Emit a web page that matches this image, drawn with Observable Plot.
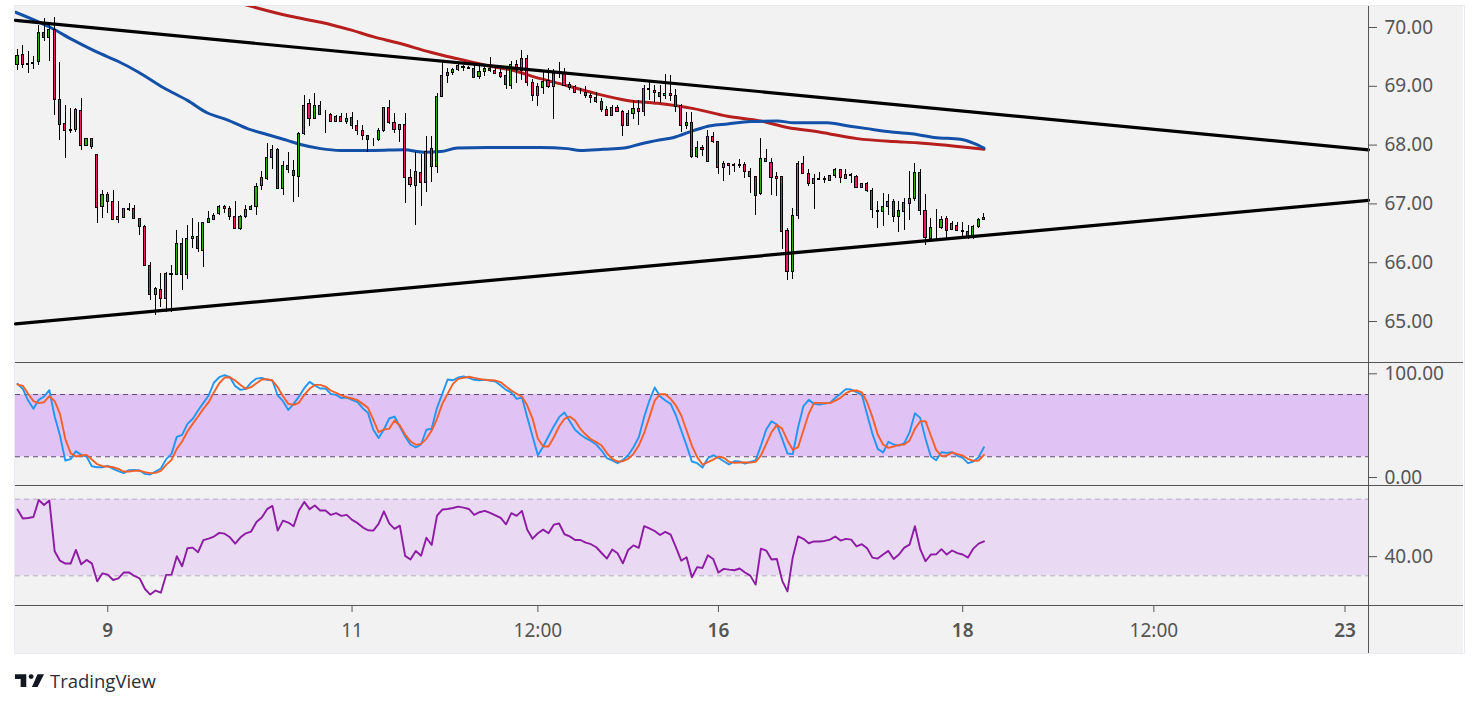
<!DOCTYPE html>
<html>
<head>
<meta charset="utf-8">
<script src="https://cdn.jsdelivr.net/npm/d3@7"></script>
<script src="https://cdn.jsdelivr.net/npm/@observablehq/plot@0.6"></script>
<style>
html,body{margin:0;padding:0;background:#fff;width:1479px;height:706px;overflow:hidden}
.pane{position:absolute;left:15px}
.pane svg{display:block}
.line{position:absolute;background:#555;z-index:5}
#edge{position:absolute;left:14px;top:5px;width:1449px;height:647px;border:1px solid #eaeaf2}
#brand{position:absolute;left:15px;top:668px;display:flex;align-items:center;font:18.5px "Open Sans",sans-serif;color:#2a2e39}
#brand svg{margin-right:6px}
</style>
</head>
<body>
<div id="edge"></div>
<div class="pane" id="price" style="top:6px"></div>
<div class="pane" id="stoch" style="top:362px"></div>
<div class="pane" id="rsiPane" style="top:485px"></div>
<div class="line" style="left:15px;top:362px;width:1448px;height:1px"></div>
<div class="line" style="left:15px;top:485px;width:1448px;height:1px"></div>
<div class="line" style="left:15px;top:605px;width:1448px;height:1px"></div>
<div class="line" style="left:1368px;top:6px;width:1px;height:647px"></div>
<div id="brand">
<svg width="29" height="22" viewBox="0 6 36 17"><path fill="#131722" d="M14 6H0v6h7v10h7zM28 22h-7l7-16h8z"/><circle fill="#131722" cx="20" cy="9" r="3"/></svg>
<span>TradingView</span>
</div>
<script>
const opens = [
69.37,69.54,69.37,69.38,69.42,69.91,69.82,69.96,68.77,68.36,
68.26,68.26,68.58,67.98,68.11,67.83,66.95,67.15,67.04,66.73,
66.76,66.92,66.92,66.75,66.61,65.95,65.45,65.54,65.39,65.79,
65.79,66.32,65.79,66.41,66.44,66.20,66.68,66.73,66.83,66.95,
66.92,66.78,66.58,66.78,66.90,66.95,67.31,67.43,67.78,67.92,
67.26,67.65,67.56,67.46,68.19,68.70,68.45,68.67,68.52,68.52,
68.40,68.48,68.40,68.46,68.33,68.24,68.15,68.10,68.08,68.24,
68.63,68.38,68.25,68.35,67.44,67.31,67.53,67.36,67.94,67.63,
68.82,69.17,69.22,69.28,69.33,69.31,69.30,69.16,69.25,69.30,
69.26,69.23,69.18,69.01,69.36,69.26,69.47,69.06,68.84,68.97,
69.09,68.99,69.21,69.21,69.03,68.99,68.89,68.89,68.84,68.80,
68.74,68.60,68.50,68.63,68.57,68.32,68.53,68.62,68.56,68.96,
68.92,68.89,68.83,68.87,68.84,68.66,68.33,68.38,67.80,67.95,
67.72,68.14,68.06,67.61,67.68,67.65,67.65,67.67,67.55,67.46,
67.16,67.77,67.70,67.46,67.46,66.54,65.85,66.80,67.68,67.51,
67.34,67.43,67.41,67.39,67.48,67.58,67.43,67.48,67.46,67.27,
67.33,67.22,66.88,66.87,66.95,67.04,66.78,66.87,67.00,67.09,
67.53,66.88,66.40,66.59,66.59,66.75,66.56,66.63,66.54,66.53,
66.46,66.61,66.73];
const closes = [
69.52,69.37,69.38,69.40,69.91,69.82,69.96,68.77,68.35,68.24,
68.24,68.60,67.99,68.11,67.97,66.93,67.15,67.04,66.72,66.78,
66.92,66.90,66.75,66.61,65.95,65.45,65.56,65.39,65.81,65.81,
66.32,65.79,66.41,66.44,66.24,66.68,66.75,66.80,66.95,66.92,
66.78,66.58,66.78,66.90,66.95,67.29,67.44,67.78,67.92,67.26,
67.65,67.58,67.48,68.19,68.67,68.45,68.67,68.52,68.52,68.40,
68.48,68.40,68.45,68.32,68.24,68.15,68.08,68.10,68.24,68.63,
68.37,68.25,68.35,67.44,67.32,67.55,67.36,67.88,67.63,68.82,
69.18,69.23,69.28,69.35,69.31,69.30,69.14,69.25,69.30,69.26,
69.21,69.16,69.03,69.36,69.30,69.47,69.06,68.84,68.99,69.08,
68.99,69.21,69.21,69.01,68.97,68.89,68.89,68.83,68.80,68.74,
68.59,68.49,68.63,68.56,68.32,68.53,68.62,68.56,68.96,68.94,
68.88,68.82,68.87,68.84,68.65,68.32,68.38,67.80,67.95,67.92,
68.14,68.06,67.61,67.68,67.65,67.67,67.67,67.55,67.46,67.14,
67.77,67.71,67.44,67.43,66.53,65.85,66.80,67.68,67.51,67.33,
67.43,67.41,67.43,67.48,67.58,67.44,67.50,67.50,67.27,67.33,
67.22,66.90,66.87,66.95,67.04,66.78,66.88,67.02,67.09,67.53,
66.88,66.42,66.59,66.59,66.73,66.54,66.65,66.54,66.53,66.44,
66.61,66.73,66.76];
const highs = [
69.62,69.69,69.60,69.51,70.03,70.15,70.06,70.17,69.40,68.67,
68.62,68.62,68.79,68.11,68.12,67.83,67.22,67.19,67.22,67.04,
66.92,67.00,66.97,66.75,66.63,66.00,65.57,65.81,65.84,65.95,
66.54,66.41,66.64,66.75,66.68,66.69,66.87,66.83,66.97,66.97,
66.95,67.04,66.81,66.97,66.97,67.34,67.55,68.02,68.00,67.94,
67.72,67.87,67.73,68.21,68.84,68.77,68.87,68.75,68.58,68.53,
68.50,68.53,68.53,68.55,68.42,68.33,68.15,68.12,68.29,68.63,
68.76,68.53,68.35,68.53,67.58,67.88,67.84,68.14,68.14,68.87,
69.40,69.30,69.31,69.38,69.36,69.33,69.35,69.35,69.33,69.49,
69.31,69.33,69.30,69.43,69.44,69.61,69.52,69.11,69.05,69.24,
69.30,69.28,69.40,69.31,69.07,69.01,68.97,68.99,68.87,68.89,
68.79,68.65,68.67,68.67,68.59,68.59,68.76,68.76,69.01,69.10,
69.01,69.01,69.20,69.18,68.94,68.69,68.56,68.56,68.06,67.99,
68.25,68.21,68.06,67.72,67.68,67.68,67.75,67.71,67.60,67.47,
68.11,67.92,67.78,67.53,67.46,66.59,66.93,67.72,67.80,67.58,
67.50,67.53,67.46,67.48,67.61,67.58,67.58,67.51,67.48,67.34,
67.36,67.26,67.04,67.17,67.16,67.07,67.04,67.10,67.55,67.68,
67.58,67.16,66.75,66.90,66.79,66.79,66.70,66.68,66.68,66.64,
66.64,66.76,66.83];
const lows = [
69.27,69.31,69.22,69.29,69.36,69.76,69.43,68.51,68.07,67.78,
68.19,68.22,67.91,67.97,67.93,66.66,66.76,66.84,66.71,66.66,
66.76,66.87,66.74,66.47,65.95,65.35,65.11,65.24,65.16,65.16,
65.79,65.52,65.72,66.24,66.18,65.91,66.66,66.71,66.81,66.83,
66.71,66.56,66.54,66.76,66.88,66.81,67.22,67.39,67.59,67.26,
67.15,67.51,67.03,67.11,68.16,68.31,68.43,68.50,68.20,68.38,
68.38,68.38,68.35,68.27,68.16,68.08,67.88,67.97,68.06,68.22,
68.35,68.20,68.05,67.01,67.28,66.64,66.96,67.20,67.36,67.52,
68.82,69.04,69.18,69.26,69.26,69.28,69.14,69.11,69.17,69.24,
69.20,69.14,68.95,68.94,69.04,69.10,68.99,68.75,68.66,68.86,
68.97,68.43,69.14,68.99,68.93,68.88,68.86,68.80,68.71,68.71,
68.56,68.48,68.49,68.55,68.14,68.31,68.44,68.34,68.48,68.76,
68.72,68.70,68.78,68.74,68.56,68.22,68.27,67.78,67.78,67.80,
67.71,68.02,67.50,67.38,67.48,67.54,67.60,67.44,67.18,66.80,
67.14,67.70,67.14,67.12,66.23,65.70,65.72,66.74,67.51,67.29,
66.91,67.39,67.35,67.38,67.44,67.34,67.41,67.35,67.27,67.26,
67.19,66.76,66.59,66.62,66.81,66.69,66.52,66.55,66.71,67.04,
66.80,66.30,66.34,66.38,66.57,66.42,66.54,66.53,66.42,66.39,
66.39,66.58,66.73];
const stochK = [
90.3,85.5,74.2,66.2,74.9,78.1,84.2,58.8,40.5,16.4,17.7,25.4,21.8,20.2,10.9,9.9,9.9,11.2,8.3,6.1,
4.2,7.1,7.4,6.7,3.5,2.9,5.8,8.7,17.7,22.8,39.2,41.1,51.7,56.6,64.6,72.0,79.1,91.6,96.7,98.7,
96.7,88.1,84.5,85.5,91.6,95.4,96.1,94.2,93.5,79.1,73.6,65.2,71.0,78.1,86.1,92.2,88.7,85.8,85.8,80.7,
79.7,76.5,77.1,74.9,72.6,66.8,62.3,46.0,38.2,46.3,56.9,58.8,49.2,39.5,31.8,28.9,31.8,46.0,47.2,67.2,
80.7,94.5,93.8,96.4,97.4,96.1,94.2,93.8,94.2,93.5,92.6,88.7,84.5,81.9,75.8,77.1,58.2,39.5,21.5,29.9,
39.8,49.5,58.2,62.7,54.3,46.0,41.4,37.9,35.3,31.8,26.0,18.6,16.4,13.8,16.7,21.5,29.2,38.9,58.2,74.2,
86.8,78.4,74.2,71.0,59.8,45.3,30.8,15.4,13.8,9.6,18.6,21.5,19.0,15.7,12.5,15.7,15.4,13.5,15.1,16.4,
30.8,46.3,54.3,51.1,37.3,23.1,22.5,48.5,68.8,74.9,71.0,70.4,71.3,72.0,76.8,80.7,85.2,84.8,82.3,79.7,
60.7,42.1,27.6,24.1,34.4,31.8,30.8,33.1,43.7,62.0,57.5,37.3,20.2,16.7,24.4,23.8,24.4,20.9,19.0,13.8,
15.4,19.6,29.2];
const stochD = [
89.7,88.4,80.7,73.6,71.7,72.6,78.4,73.6,61.4,37.3,23.5,20.2,21.2,21.8,17.3,12.8,10.9,10.6,9.9,8.3,
5.8,5.8,6.4,6.7,5.1,4.2,4.5,6.4,12.2,17.0,27.6,34.7,44.3,51.7,58.8,66.2,72.6,82.3,90.9,96.4,
96.7,93.5,89.3,85.5,87.1,90.9,94.5,94.8,93.5,87.1,78.4,71.0,70.1,72.0,79.7,85.5,89.3,89.3,87.7,83.9,
81.6,79.1,77.4,76.2,74.6,71.0,67.2,55.9,43.7,46.3,46.9,55.0,50.1,41.4,35.0,31.5,32.4,37.3,45.3,56.6,
71.0,80.7,90.3,95.1,96.1,97.1,96.1,95.1,94.2,93.8,93.5,91.9,87.7,83.9,80.7,78.1,69.4,56.6,37.3,29.9,
29.9,38.9,49.2,56.6,58.8,55.0,46.9,41.4,36.9,34.1,30.8,23.5,18.0,15.4,15.7,18.0,22.8,30.8,42.7,58.2,
74.2,80.3,80.3,75.8,69.4,59.8,45.3,30.8,19.6,12.5,14.8,17.3,20.2,19.0,15.1,14.1,14.4,14.4,14.4,15.1,
21.2,32.4,43.7,50.8,46.9,35.7,26.7,29.2,45.3,61.4,72.0,72.0,71.7,71.7,74.2,76.8,81.3,83.6,83.9,82.0,
72.6,58.2,41.4,31.8,28.6,29.9,31.5,31.8,35.7,46.9,54.3,54.3,40.5,26.7,20.6,21.2,24.1,22.5,21.2,18.0,
16.1,16.4,21.8];
const rsi = [
64.6,59.9,60.2,60.7,69.6,67.0,69.3,42.8,37.9,36.4,36.4,43.5,36.0,38.3,36.5,27.1,31.3,30.6,27.8,28.7,
31.7,31.8,29.9,28.7,23.1,20.2,22.3,21.2,30.5,30.6,40.2,35.0,44.4,44.7,42.3,48.6,49.4,50.5,52.4,52.0,
50.1,46.8,50.1,52.2,53.1,58.1,60.4,64.8,66.5,53.6,58.8,57.8,55.9,64.1,68.6,64.8,66.7,64.1,64.1,61.8,
62.7,61.3,61.8,59.2,57.6,55.3,53.8,53.6,57.1,63.7,57.4,54.5,56.2,40.4,38.5,43.0,40.5,49.9,46.1,61.4,
64.6,64.9,65.4,66.1,65.6,64.9,61.8,63.2,63.9,62.8,61.6,60.2,56.9,62.7,61.3,63.9,54.0,49.4,52.2,54.1,
52.2,56.7,57.3,51.7,50.6,48.7,48.7,47.3,46.5,44.9,41.9,39.0,43.7,41.8,36.5,43.5,45.9,44.6,55.9,54.8,
53.4,51.3,52.9,51.5,44.9,37.9,39.7,29.2,34.5,34.1,40.7,38.8,31.7,33.6,33.2,32.9,33.8,31.7,30.1,25.4,
44.2,43.2,38.5,38.8,27.5,21.9,39.7,50.6,49.3,47.0,48.0,47.9,48.2,48.9,50.5,48.4,49.3,48.9,45.4,46.5,
44.4,39.5,39.0,41.1,43.0,38.8,41.1,44.7,46.3,55.9,43.9,37.6,41.1,41.2,43.9,41.1,43.2,41.8,41.1,39.5,
44.2,46.8,48.0];
const blueBar = [-0.4,6.2,10.6,15,18.8,22.8,27.6,32,35.7,39.5,43.3,47,50.8,53.3,57.1,60.8,67.1,72.8,76.5,79.7,82.8,88.5,94.7,98.5,103.5,106,110.4,114.2,117.3,121.1,123.6,127.4,130.5,133.7,138,143.1,146.2,152.5,156.2,160,165,168.8,172.6,177.6,180.1,182];
const blueVal = [70.26,70.0,69.78,69.58,69.43,69.24,68.97,68.76,68.55,68.43,68.28,68.18,68.08,68.01,67.94,67.91,67.91,67.92,67.88,67.89,67.95,67.96,67.96,67.96,67.94,67.91,67.93,67.95,68.02,68.09,68.13,68.25,68.33,68.36,68.40,68.41,68.38,68.38,68.33,68.28,68.22,68.19,68.13,68.10,68.03,67.95];
const redBar = [42,44.4,51.4,57.1,62.7,67.1,71.5,77.8,82.8,88.5,92.8,98.5,103.5,109.2,114.8,120.5,127.3,133.7,139.9,145,151.2,158.1,165,169.4,175.7,182];
const redVal = [70.41,70.35,70.19,70.09,69.96,69.84,69.74,69.58,69.47,69.35,69.28,69.13,69.01,68.87,68.76,68.71,68.62,68.49,68.41,68.30,68.22,68.11,68.06,68.04,67.99,67.93];
const trendBars = [-0.377,254.42];
const upperTrend = [70.12,67.92];
const lowerTrend = [64.96,67.06];
const priceTicks = [65,66,67,68,69,70];
const stochTicks = [0,100];
const stochBand = [20,80];
const rsiTicks = [40];
const rsiBand = [30,70];
const xTickBars = [17,63,98,132,178,214,250];
const xTickLabels = ["9","11","12:00","16","18","12:00","23"];
const xBoldBars = [17,132,178,250];

const FONT = '"Noto Sans",sans-serif';
const PANEL = "#f2f2f2";
const UP = "#2fae0a", DOWN = "#ee1a68";
const xDomain = [trendBars[0], trendBars[1]];
const base = {width:1448, marginLeft:0, marginRight:95, marginTop:0, marginBottom:0,
  style:{background:PANEL, fontFamily:FONT, color:"#555", overflow:"visible"}};
const x = {domain:xDomain, range:[0,1353], axis:null};
const yAxis = (ticks) => Plot.axisY({anchor:"right", ticks, tickFormat:d=>d.toFixed(2), tickSize:8, tickPadding:8, fontSize:19, label:null, stroke:"#555", color:"#555"});
const xLabel = (d) => xTickLabels[xTickBars.indexOf(d)];

const candles = opens.map((o,i)=>({bar:i, open:o, close:closes[i], high:highs[i], low:lows[i]}));
const line2 = (ys) => trendBars.map((b,i)=>({bar:b, v:ys[i]}));
const seq = (arr) => arr.map((v,i)=>({bar:i, v}));
const zip = (bs,vs) => bs.map((b,i)=>({bar:b, v:vs[i]}));

document.getElementById("price").append(Plot.plot({...base, height:356,
  x, y:{domain:[70,65], range:[21,315], axis:null},
  marks:[
    Plot.line(zip(redBar,redVal),{x:"bar",y:"v",stroke:"#b71f1f",strokeWidth:3,curve:"monotone-x",clip:true}),
    Plot.line(zip(blueBar,blueVal),{x:"bar",y:"v",stroke:"#1350a8",strokeWidth:3,curve:"monotone-x",clip:true}),
    Plot.ruleX(candles,{x:"bar",y1:"low",y2:"high",stroke:"#000",strokeWidth:1,shapeRendering:"crispEdges"}),
    Plot.rect(candles,{x1:d=>d.bar-0.2,x2:d=>d.bar+0.2,y1:"open",y2:"close",
      fill:d=>d.close>=d.open?UP:DOWN,stroke:"#000",strokeWidth:1,shapeRendering:"crispEdges"}),
    Plot.line(line2(upperTrend),{x:"bar",y:"v",stroke:"#000",strokeWidth:3.2}),
    Plot.line(line2(lowerTrend),{x:"bar",y:"v",stroke:"#000",strokeWidth:3.2}),
    yAxis(priceTicks)
  ]}));

document.getElementById("stoch").append(Plot.plot({...base, height:123,
  x, y:{domain:[100,0], range:[11.3,115], axis:null},
  marks:[
    Plot.rect([stochBand],{y1:d=>d[0],y2:d=>d[1],fill:"#e0c3f4"}),
    Plot.ruleY(stochBand,{stroke:"#5f4a72",strokeWidth:1,strokeDasharray:"5,4"}),
    Plot.line(seq(stochK),{x:"bar",y:"v",stroke:"#2196f3",strokeWidth:1.9}),
    Plot.line(seq(stochD),{x:"bar",y:"v",stroke:"#f4602a",strokeWidth:1.9}),
    yAxis(stochTicks)
  ]}));

document.getElementById("rsiPane").append(Plot.plot({...base, height:168, marginBottom:48,
  x, y:{domain:[70,30], range:[13.7,90.3], axis:null},
  marks:[
    Plot.rect([rsiBand],{y1:d=>d[0],y2:d=>d[1],fill:"#e9d9f3"}),
    Plot.ruleY(rsiBand,{stroke:"#b8a8c0",strokeWidth:1,strokeDasharray:"5,4"}),
    Plot.line(seq(rsi),{x:"bar",y:"v",stroke:"#8e1ba3",strokeWidth:1.9}),
    yAxis(rsiTicks),
    Plot.axisX({anchor:"bottom", ticks:xTickBars.filter(d=>!xBoldBars.includes(d)), tickFormat:xLabel,
      tickSize:7, tickPadding:11, fontSize:19, label:null, stroke:"#555", color:"#555"}),
    Plot.axisX({anchor:"bottom", ticks:xBoldBars, tickFormat:xLabel,
      tickSize:7, tickPadding:11, fontSize:19, fontWeight:600, label:null, stroke:"#555", color:"#555"})
  ]}));
</script>
</body>
</html>
